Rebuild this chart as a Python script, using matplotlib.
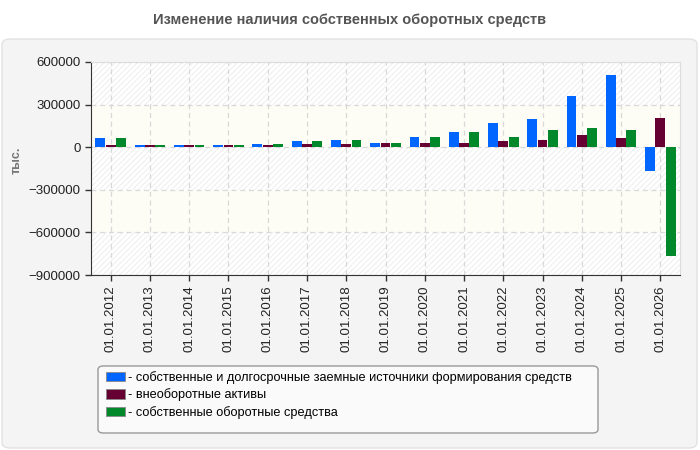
import matplotlib.pyplot as plt
import numpy as np
from matplotlib.patches import FancyBboxPatch, Patch

# --- data ---
dates = ['01.01.2012', '01.01.2013', '01.01.2014', '01.01.2015', '01.01.2016',
         '01.01.2017', '01.01.2018', '01.01.2019', '01.01.2020', '01.01.2021',
         '01.01.2022', '01.01.2023', '01.01.2024', '01.01.2025', '01.01.2026']
sources = [62000, 13000, 13000, 13000, 20000, 41000, 48000, 27000, 69000, 104000,
           168000, 196000, 358000, 508000, -166000]
noncurrent = [13000, 13000, 13000, 13000, 13000, 20000, 20000, 27000, 27000, 27000,
              41000, 48000, 83000, 62000, 203000]
working = [62000, 13000, 13000, 13000, 20000, 41000, 48000, 27000, 69000, 104000,
           69000, 118000, 132000, 118000, -765000]

series_names = ['- собственные и долгосрочные заемные источники формирования средств',
                '- внеоборотные активы',
                '- собственные оборотные средства']
colors = ['#0066ff', '#660033', '#00882b']
yticks = [600000, 300000, 0, -300000, -600000, -900000]

plt.rcParams['font.family'] = ['Liberation Sans', 'DejaVu Sans']
plt.rcParams['hatch.linewidth'] = 0.6

fig = plt.figure(figsize=(7, 4.5), dpi=100)
fig.patch.set_facecolor('white')

# outer rounded panel
panel = FancyBboxPatch((2 / 700, 2 / 450), 695 / 700, 409 / 450,
                       boxstyle='round,pad=0,rounding_size=0.012',
                       transform=fig.transFigure, facecolor='#f4f4f4',
                       edgecolor='#e2e2e2', linewidth=1, zorder=-5)
fig.patches.append(panel)

# legend box
lbox = FancyBboxPatch((98 / 700, 1 - 433 / 450), 500 / 700, 67 / 450,
                      boxstyle='round,pad=0,rounding_size=0.008',
                      transform=fig.transFigure, facecolor='#fafafa',
                      edgecolor='#999999', linewidth=1, zorder=-4)
fig.patches.append(lbox)

fig.text(0.5, 1 - 20 / 450, 'Изменение наличия собственных оборотных средств',
         ha='center', va='center', fontsize=10.5, fontweight='bold', color='#555555')

ax = fig.add_axes([91 / 700, 1 - 275 / 450, 589 / 700, 213 / 450])
ax.set_facecolor('white')

# striped background bands
for i in range(len(yticks) - 1):
    lo, hi = yticks[i + 1], yticks[i]
    if i % 2 == 0:
        ax.axhspan(lo, hi, facecolor='white', edgecolor='#ebebeb', hatch='//////',
                   linewidth=0, zorder=0)
    else:
        ax.axhspan(lo, hi, facecolor='#fdfdf5', linewidth=0, zorder=0)

x = np.arange(len(dates))
w = 0.25
step = 0.2625
for k, vals in enumerate([sources, noncurrent, working]):
    ax.bar(x + (k - 1) * step, vals, width=w, color=colors[k], zorder=3)

ax.set_xlim(-0.5, len(dates) - 0.5)
ax.set_ylim(-900000, 600000)
ax.set_yticks(yticks)
ax.set_xticks(x)
ax.set_xticklabels(dates, rotation=90)
ax.tick_params(axis='both', labelsize=9.5, labelcolor='#222222', length=4, width=1,
               color='#333333')

ax.grid(True, color='#d8d8d8', linestyle=(0, (4, 3)), linewidth=0.9, zorder=1)
ax.set_axisbelow(True)

for s in ['top', 'right']:
    ax.spines[s].set_color('#dddddd')
for s in ['left', 'bottom']:
    ax.spines[s].set_color('#333333')

fig.text(17 / 700, 1 - 160 / 450, 'тыс.', rotation=90, ha='center', va='center',
         fontsize=9, fontweight='bold', color='#777777')

handles = [Patch(facecolor=c, edgecolor='#888888', linewidth=0.6) for c in colors]
leg = fig.legend(handles, series_names, loc='upper left',
                 bbox_to_anchor=(106 / 700, 1 - 371 / 450), fontsize=9.2,
                 frameon=False, handlelength=1.5, handleheight=0.75,
                 handletextpad=0.25, labelspacing=0.35, borderpad=0,
                 borderaxespad=0)

fig.savefig('out.png', dpi=100, facecolor=fig.get_facecolor())
